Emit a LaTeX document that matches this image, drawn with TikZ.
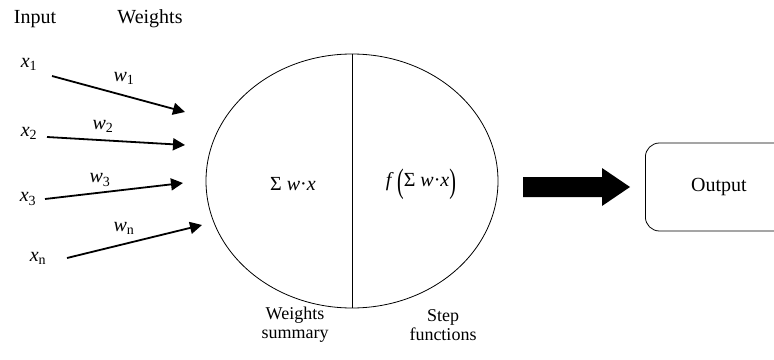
\documentclass[tikz,border=0pt]{standalone}
\usepackage{fontspec}
\setmainfont{Liberation Serif}
\usepackage{graphicx}
\usetikzlibrary{arrows.meta,shapes.geometric}
\newcommand{\vx}{\textit{x}}
\newcommand{\vw}{\textit{w}}
\newcommand{\bigparen}[1]{\raisebox{-0.3em}{\scalebox{1}[1.7]{#1}}}
\begin{document}
\begin{tikzpicture}[x=1pt,y=-1pt,
  lbl/.style={font=\fontsize{20}{20}\selectfont, inner sep=0pt},
  sublbl/.style={font=\fontsize{18}{19}\selectfont, inner sep=0pt, align=center},
  inarrow/.style={line width=1.8pt, -{Triangle[length=12pt,width=12pt]}},
  neuronstyle/.style={ellipse, draw, line width=0.8pt, minimum width=292pt, minimum height=254pt, inner sep=0pt},
  outbox/.style={draw, line width=0.8pt, rounded corners=14pt, minimum width=160pt, minimum height=88pt, inner sep=0pt}
]
\clip (0,0) rectangle (774,359);
\fill[white] (0,0) rectangle (774,359);

\node[lbl] (input) at (35,19) {Input};
\node[lbl] (weights) at (150,19) {Weights};

\node[lbl] (x1) at (29,64) {\vx\textsubscript{1}};
\node[lbl] (x2) at (29,133) {\vx\textsubscript{2}};
\node[lbl] (x3) at (28,199) {\vx\textsubscript{3}};
\node[lbl] (xn) at (38,258) {\vx\textsubscript{n}};

\node[lbl] (w1) at (124,78) {\vw\textsubscript{1}};
\node[lbl] (w2) at (103,126) {\vw\textsubscript{2}};
\node[lbl] (w3) at (100,180) {\vw\textsubscript{3}};
\node[lbl] (wn) at (124,228) {\vw\textsubscript{n}};

\coordinate (s1) at (52,76);  \coordinate (t1) at (185,112);
\coordinate (s2) at (47,137); \coordinate (t2) at (185,145);
\coordinate (s3) at (45,199); \coordinate (t3) at (183,183);
\coordinate (sn) at (67,258); \coordinate (tn) at (202,225);
\draw[inarrow] (s1) -- (t1);
\draw[inarrow] (s2) -- (t2);
\draw[inarrow] (s3) -- (t3);
\draw[inarrow] (sn) -- (tn);

\node[neuronstyle] (neuron) at (352,181) {};
\draw[line width=0.8pt] (neuron.north) -- (neuron.south);

\node[lbl] (sum) at (293,184) {Σ \vw·\vx};
\node[lbl] (act) at (421,184) {\textit{f}\,\bigparen{(}Σ \vw·\vx\bigparen{)}};

\node[sublbl] (wsum) at (295,325) {Weights\\summary};
\node[sublbl] (stepf) at (443,325) {Step\\functions};

\fill (523,177) -- (602,177) -- (602,168) -- (630,187) -- (602,206) -- (602,197) -- (523,197) -- cycle;

\node[outbox, anchor=west] (out) at (645,187) {};
\node[lbl] (outtxt) at (719,187) {Output};
\end{tikzpicture}
\end{document}
